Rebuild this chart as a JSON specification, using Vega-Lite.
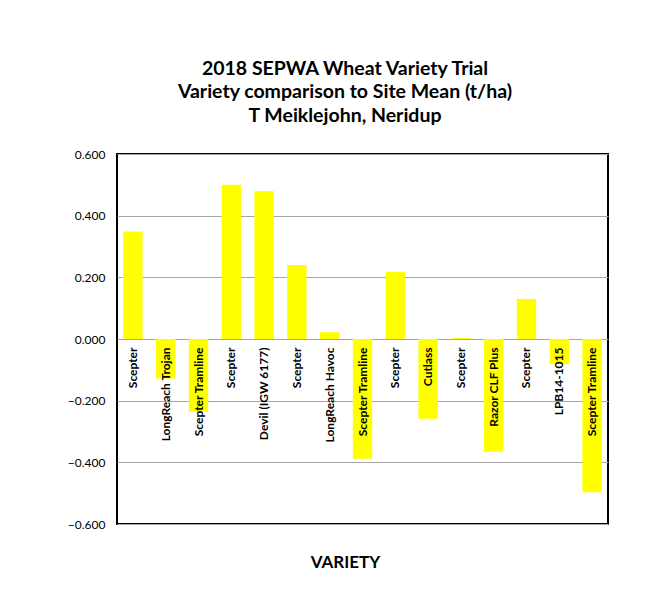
{
  "$schema": "https://vega.github.io/schema/vega-lite/v6.json",
  "width": 491,
  "height": 370,
  "autosize": {"type": "none"},
  "padding": {"left": 117, "top": 154, "right": 57, "bottom": 76},
  "background": "white",
  "title": {
    "text": ["2018 SEPWA Wheat Variety Trial", "Variety comparison to Site Mean (t/ha)", "T Meiklejohn, Neridup"],
    "font": "Lato",
    "fontSize": 19.5,
    "fontWeight": "bold",
    "lineHeight": 23.5,
    "color": "black",
    "anchor": "middle",
    "dx": -17.5,
    "offset": 22
  },
  "data": {
    "values": [
      {"slot": "01|Scepter", "variety": "Scepter", "diff": 0.349},
      {"slot": "02|LongReach Trojan", "variety": "LongReach Trojan", "diff": -0.128},
      {"slot": "03|Scepter Tramline", "variety": "Scepter Tramline", "diff": -0.236},
      {"slot": "04|Scepter", "variety": "Scepter", "diff": 0.5},
      {"slot": "05|Devil (IGW 6177)", "variety": "Devil (IGW 6177)", "diff": 0.479},
      {"slot": "06|Scepter", "variety": "Scepter", "diff": 0.24},
      {"slot": "07|LongReach Havoc", "variety": "LongReach Havoc", "diff": 0.022},
      {"slot": "08|Scepter Tramline", "variety": "Scepter Tramline", "diff": -0.388},
      {"slot": "09|Scepter", "variety": "Scepter", "diff": 0.217},
      {"slot": "10|Cutlass", "variety": "Cutlass", "diff": -0.259},
      {"slot": "11|Scepter", "variety": "Scepter", "diff": 0.003},
      {"slot": "12|Razor CLF Plus", "variety": "Razor CLF Plus", "diff": -0.366},
      {"slot": "13|Scepter", "variety": "Scepter", "diff": 0.13},
      {"slot": "14|LPB14-1015", "variety": "LPB14-1015", "diff": -0.082},
      {"slot": "15|Scepter Tramline", "variety": "Scepter Tramline", "diff": -0.497}
    ]
  },
  "mark": {"type": "bar", "color": "#ffff00"},
  "encoding": {
    "x": {
      "field": "slot",
      "type": "nominal",
      "sort": null,
      "scale": {"paddingInner": 0.41, "paddingOuter": 0.19},
      "axis": {
        "orient": "bottom",
        "offset": -185,
        "zindex": 1,
        "domain": false,
        "ticks": false,
        "grid": false,
        "labelExpr": "split(datum.label, '|')[1]",
        "labelAngle": 270,
        "labelAlign": "right",
        "labelBaseline": "middle",
        "labelPadding": 8,
        "labelFont": "Lato",
        "labelFontSize": 12,
        "labelFontWeight": "bold",
        "labelColor": "black",
        "labelOverlap": false,
        "labelLimit": 300,
        "title": "VARIETY",
        "titleFont": "Lato",
        "titleFontSize": 17,
        "titleFontWeight": "bold",
        "titleColor": "black",
        "titleX": 228,
        "titleAlign": "center",
        "titleY": 228,
        "titleBaseline": "alphabetic"
      }
    },
    "y": {
      "field": "diff",
      "type": "quantitative",
      "scale": {"domain": [-0.6, 0.6], "nice": false},
      "axis": {
        "values": [-0.6, -0.4, -0.2, 0, 0.2, 0.4, 0.6],
        "format": ".3f",
        "domain": false,
        "ticks": false,
        "labelPadding": 12,
        "labelFont": "Lato",
        "labelFontSize": 12,
        "labelColor": "black",
        "gridColor": "#a6a6a6",
        "gridWidth": 1,
        "title": null
      }
    }
  },
  "config": {
    "view": {"stroke": "black", "strokeWidth": 2}
  }
}
